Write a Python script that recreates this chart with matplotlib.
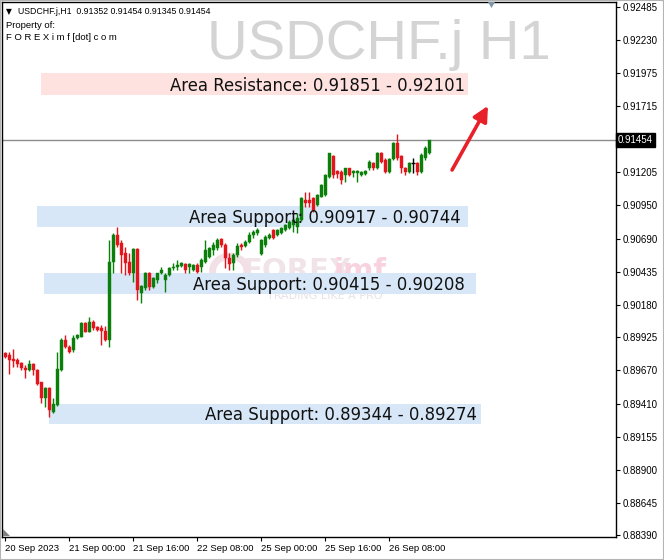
import matplotlib
matplotlib.use("Agg")
import matplotlib.pyplot as plt
from matplotlib.patches import Rectangle, Polygon

# ---------------- data (USDCHF.j H1) ----------------
opens = [0.89807, 0.89789, 0.89760, 0.89750, 0.89724, 0.89686, 0.89672, 0.89719, 0.89672, 0.89577,
         0.89453, 0.89535, 0.89345, 0.89401, 0.89672, 0.89905, 0.89853, 0.89828, 0.89918, 0.89931,
         0.90039, 0.89969, 0.90047, 0.90003, 0.89996, 0.89977, 0.89905, 0.90512, 0.90719, 0.90654,
         0.90577, 0.90512, 0.90422, 0.90608, 0.90272, 0.90306, 0.90427, 0.90318, 0.90370, 0.90422,
         0.90370, 0.90409, 0.90461, 0.90471, 0.90481, 0.90492, 0.90473, 0.90448, 0.90486, 0.90473,
         0.90512, 0.90551, 0.90603, 0.90616, 0.90685, 0.90641, 0.90538, 0.90499, 0.90564, 0.90641,
         0.90634, 0.90667, 0.90719, 0.90732, 0.90572, 0.90641, 0.90693, 0.90758, 0.90719, 0.90732,
         0.90758, 0.90771, 0.90796, 0.90783, 0.90835, 0.90990, 0.90990, 0.91003, 0.90951, 0.91016,
         0.91029, 0.91171, 0.91328, 0.91217, 0.91209, 0.91184, 0.91236, 0.91199, 0.91199, 0.91184,
         0.91191, 0.91236, 0.91274, 0.91236, 0.91354, 0.91300, 0.91209, 0.91305, 0.91429, 0.91328,
         0.91236, 0.91209, 0.91274, 0.91274, 0.91209, 0.91316, 0.91352]
highs = [0.89814, 0.89814, 0.89835, 0.89766, 0.89737, 0.89711, 0.89750, 0.89727, 0.89680, 0.89582,
         0.89543, 0.89543, 0.89456, 0.89814, 0.89918, 0.89944, 0.89866, 0.89944, 0.89952, 0.90047,
         0.90047, 0.90086, 0.90060, 0.90014, 0.90021, 0.90014, 0.90680, 0.90732, 0.90783, 0.90680,
         0.90628, 0.90577, 0.90616, 0.90616, 0.90331, 0.90434, 0.90434, 0.90393, 0.90427, 0.90473,
         0.90422, 0.90471, 0.90499, 0.90525, 0.90510, 0.90499, 0.90499, 0.90494, 0.90499, 0.90538,
         0.90680, 0.90628, 0.90667, 0.90693, 0.90693, 0.90654, 0.90577, 0.90577, 0.90654, 0.90659,
         0.90680, 0.90744, 0.90758, 0.90771, 0.90688, 0.90719, 0.90732, 0.90765, 0.90765, 0.90781,
         0.90804, 0.90835, 0.90848, 0.90887, 0.91016, 0.91054, 0.91054, 0.91016, 0.91037, 0.91114,
         0.91191, 0.91357, 0.91339, 0.91223, 0.91223, 0.91238, 0.91238, 0.91223, 0.91223, 0.91215,
         0.91223, 0.91300, 0.91285, 0.91362, 0.91362, 0.91313, 0.91313, 0.91440, 0.91500, 0.91339,
         0.91248, 0.91287, 0.91313, 0.91287, 0.91357, 0.91409, 0.91454]
lows = [0.89763, 0.89642, 0.89698, 0.89698, 0.89672, 0.89610, 0.89667, 0.89634, 0.89556, 0.89419,
        0.89383, 0.89311, 0.89337, 0.89394, 0.89667, 0.89841, 0.89807, 0.89814, 0.89913, 0.89926,
        0.89965, 0.89965, 0.89983, 0.89975, 0.89866, 0.89900, 0.89853, 0.90422, 0.90628, 0.90422,
        0.90409, 0.90409, 0.90357, 0.90215, 0.90194, 0.90293, 0.90293, 0.90310, 0.90344, 0.90417,
        0.90279, 0.90401, 0.90448, 0.90448, 0.90471, 0.90422, 0.90422, 0.90440, 0.90422, 0.90434,
        0.90499, 0.90538, 0.90564, 0.90603, 0.90628, 0.90461, 0.90448, 0.90448, 0.90551, 0.90603,
        0.90623, 0.90654, 0.90693, 0.90719, 0.90564, 0.90628, 0.90688, 0.90688, 0.90711, 0.90726,
        0.90750, 0.90765, 0.90744, 0.90732, 0.90827, 0.90938, 0.90938, 0.90899, 0.90943, 0.91010,
        0.91021, 0.91161, 0.91161, 0.91161, 0.91114, 0.91132, 0.91176, 0.91171, 0.91132, 0.91176,
        0.91184, 0.91223, 0.91223, 0.91230, 0.91277, 0.91197, 0.91199, 0.91300, 0.91300, 0.91197,
        0.91184, 0.91197, 0.91197, 0.91184, 0.91202, 0.91300, 0.91345]
closes = [0.89776, 0.89750, 0.89745, 0.89719, 0.89686, 0.89672, 0.89719, 0.89672, 0.89564, 0.89453,
          0.89531, 0.89363, 0.89409, 0.89678, 0.89905, 0.89853, 0.89814, 0.89918, 0.89944, 0.90039,
          0.89969, 0.90047, 0.89996, 0.89983, 0.89977, 0.89905, 0.90512, 0.90719, 0.90641, 0.90564,
          0.90499, 0.90422, 0.90608, 0.90293, 0.90324, 0.90422, 0.90318, 0.90383, 0.90422, 0.90448,
          0.90409, 0.90461, 0.90473, 0.90486, 0.90499, 0.90448, 0.90492, 0.90486, 0.90434, 0.90525,
          0.90603, 0.90616, 0.90641, 0.90680, 0.90641, 0.90538, 0.90494, 0.90564, 0.90634, 0.90628,
          0.90667, 0.90719, 0.90744, 0.90758, 0.90680, 0.90706, 0.90719, 0.90693, 0.90758, 0.90771,
          0.90796, 0.90822, 0.90835, 0.90848, 0.91003, 0.90969, 0.90964, 0.90913, 0.91029, 0.91106,
          0.91184, 0.91354, 0.91184, 0.91191, 0.91145, 0.91236, 0.91184, 0.91215, 0.91215, 0.91209,
          0.91217, 0.91287, 0.91236, 0.91354, 0.91287, 0.91209, 0.91305, 0.91429, 0.91313, 0.91236,
          0.91209, 0.91274, 0.91274, 0.91209, 0.91339, 0.91393, 0.91454]

time_tick_bars = [0, 16, 32, 48, 64, 80, 96]
time_tick_labels = ["20 Sep 2023", "21 Sep 00:00", "21 Sep 16:00", "22 Sep 08:00",
                    "25 Sep 00:00", "25 Sep 16:00", "26 Sep 08:00"]
price_ticks = [0.92485, 0.92230, 0.91975, 0.91715, 0.91205, 0.90950, 0.90690, 0.90435,
               0.90180, 0.89925, 0.89670, 0.89410, 0.89155, 0.88900, 0.88645, 0.88390]
price_tick_labels = ["0.92485", "0.92230", "0.91975", "0.91715", "0.91205", "0.90950", "0.90690",
                     "0.90435", "0.90180", "0.89925", "0.89670", "0.89410", "0.89155", "0.88900",
                     "0.88645", "0.88390"]
current_price = 0.91454

zone_labels = ["Area Resistance: 0.91851 - 0.92101", "Area Support: 0.90917 - 0.90744",
               "Area Support: 0.90415 - 0.90208", "Area Support: 0.89344 - 0.89274"]
zone_top = [0.91974, 0.90944, 0.90424, 0.89409]
zone_bottom = [0.91804, 0.90781, 0.90262, 0.89254]
zone_start = [9.0, 8.0, 9.75, 11.0]
zone_end = [115.75, 115.75, 117.75, 119.0]
zone_text_end = [115.0, 114.0, 115.0, 118.0]
zone_kind = ["resistance", "support", "support", "support"]

header_line = "USDCHF.j,H1  0.91352 0.91454 0.91345 0.91454"

# ---------------- styling ----------------
W, H = 664, 560
GREEN = "#0a800a"
RED = "#e3141c"
RES_COLOR = "#fde2df"
SUP_COLOR = "#d7e7f7"
small_font = ["Liberation Sans", "DejaVu Sans"]
PX = 0.0000775  # price per pixel (only used for tiny text nudges)

fig = plt.figure(figsize=(W / 100, H / 100), dpi=100)
fig.patch.set_facecolor("white")
ax = fig.add_axes([2 / W, 23 / H, 614 / W, 535 / H])
ax.set_facecolor("white")

ax.set_xlim(-0.75, 152.75)
ax.set_ylim(0.88378, 0.92525)

# zones
for lab, top, bot, x0, x1, xt, kind in zip(zone_labels, zone_top, zone_bottom, zone_start,
                                           zone_end, zone_text_end, zone_kind):
    col = RES_COLOR if kind == "resistance" else SUP_COLOR
    ax.add_patch(Rectangle((x0, bot), x1 - x0, top - bot, facecolor=col, edgecolor="none", zorder=1))
    ax.text(xt, (top + bot) / 2 - 1.5 * PX, lab, ha="right", va="center", fontsize=11.9,
            family=["DejaVu Sans"], color="#111111", zorder=6)

# watermark title
ax.text(0.613, 0.92, "USDCHF.j H1", transform=ax.transAxes, ha="center", va="center",
        fontsize=40.5, family=["Liberation Sans", "DejaVu Sans"], color="#d4d4d4", zorder=0)

# faint logo watermark
ax.text(0.392, 0.497, "FOREX", transform=ax.transAxes, ha="left", va="center",
        fontsize=21, fontweight="bold", family=["DejaVu Sans"], color="#f1e4e9", zorder=0.5)
ax.text(0.540, 0.497, "imf", transform=ax.transAxes, ha="left", va="center",
        fontsize=21, fontweight="bold", family=["DejaVu Sans"], color="#f8d3df", zorder=0.5)
ax.text(0.432, 0.45, "TRADING LIKE A PRO", transform=ax.transAxes, ha="left", va="center",
        fontsize=8, family=["DejaVu Sans"], color="#e8e2e8", zorder=0.5)
ax.add_patch(matplotlib.patches.Circle((0.371, 0.497), 0.028, transform=ax.transAxes,
                                       facecolor="none", edgecolor="#f2e0e6", linewidth=5, zorder=0.5))

# candles
n = len(closes)
xs = list(range(n))
cols = []
for o, c in zip(opens, closes):
    cols.append(GREEN if c > o else (RED if c < o else "black"))
ax.vlines(xs, lows, highs, colors=cols, linewidth=1.0, zorder=3)
bodies_x, bodies_b, bodies_h, bodies_c = [], [], [], []
for i, (o, c) in enumerate(zip(opens, closes)):
    if c != o:
        bodies_x.append(i)
        bodies_b.append(min(o, c))
        bodies_h.append(abs(c - o))
        bodies_c.append(cols[i])
    else:
        ax.hlines(o, i - 0.4, i + 0.4, colors="black", linewidth=1.0, zorder=4)
ax.bar(bodies_x, bodies_h, bottom=bodies_b, width=0.75, color=bodies_c, edgecolor=bodies_c,
       linewidth=0.3, zorder=4)

# current price line
ax.axhline(current_price, color="#8c8c8c", linewidth=1.0, zorder=2)

# red arrow
ax.annotate("", xy=(0.7915, 0.806), xytext=(0.733, 0.686), xycoords="axes fraction",
            textcoords="axes fraction",
            arrowprops=dict(arrowstyle="-|>,head_length=0.9,head_width=0.45", color="#e82028",
                            linewidth=2.6, shrinkA=0, shrinkB=0), zorder=7)

# header text
ax.text(0.006, 0.983, "\u25BC", transform=ax.transAxes, ha="left", va="center", fontsize=5.5,
        color="black", family=["DejaVu Sans"])
ax.text(0.026, 0.983, header_line, transform=ax.transAxes, ha="left", va="center", fontsize=6.3,
        family=small_font, color="black")
ax.text(0.006, 0.957, "Property of:", transform=ax.transAxes, ha="left", va="center", fontsize=6.8,
        family=small_font, color="black")
ax.text(0.006, 0.933, "F O R E X i m f [dot] c o m", transform=ax.transAxes, ha="left", va="center",
        fontsize=6.8, family=small_font, color="black")

# axes styling
for s in ax.spines.values():
    s.set_color("black")
    s.set_linewidth(1.0)
ax.yaxis.tick_right()
ax.set_yticks(price_ticks)
ax.set_yticklabels(price_tick_labels)
ax.set_xticks(time_tick_bars)
ax.set_xticklabels(time_tick_labels, ha="left")
ax.tick_params(axis="y", direction="out", length=3, width=0.8, pad=2, labelsize=7, labelcolor="black")
ax.tick_params(axis="x", direction="out", length=3, width=0.8, pad=2, labelsize=6.8, labelcolor="black")
for lab in ax.get_xticklabels() + ax.get_yticklabels():
    lab.set_family(small_font)

# current price box on the scale
ax.text(1.003, current_price, "0.91454", transform=ax.get_yaxis_transform(), ha="left", va="center",
        fontsize=7, family=small_font, color="white",
        bbox=dict(boxstyle="square,pad=0.2", facecolor="black", edgecolor="black"), clip_on=False, zorder=8)

# small shift markers
fig.patches.append(Polygon([[488 / W, 1 - 2 / H], [495 / W, 1 - 2 / H], [491.5 / W, 1 - 8 / H]],
                           closed=True, transform=fig.transFigure, facecolor="#7f96a8", edgecolor="none"))
fig.patches.append(Polygon([[3 / W, 1 - 529 / H], [3 / W, 1 - 536 / H], [10 / W, 1 - 536 / H]],
                           closed=True, transform=fig.transFigure, facecolor="#808080", edgecolor="none"))
# outer frame
fig.patches.append(Rectangle((0, 0), 1, 1, transform=fig.transFigure, facecolor="none",
                             edgecolor="#b4b4b4", linewidth=1.5))

fig.savefig("out.png", dpi=100)
